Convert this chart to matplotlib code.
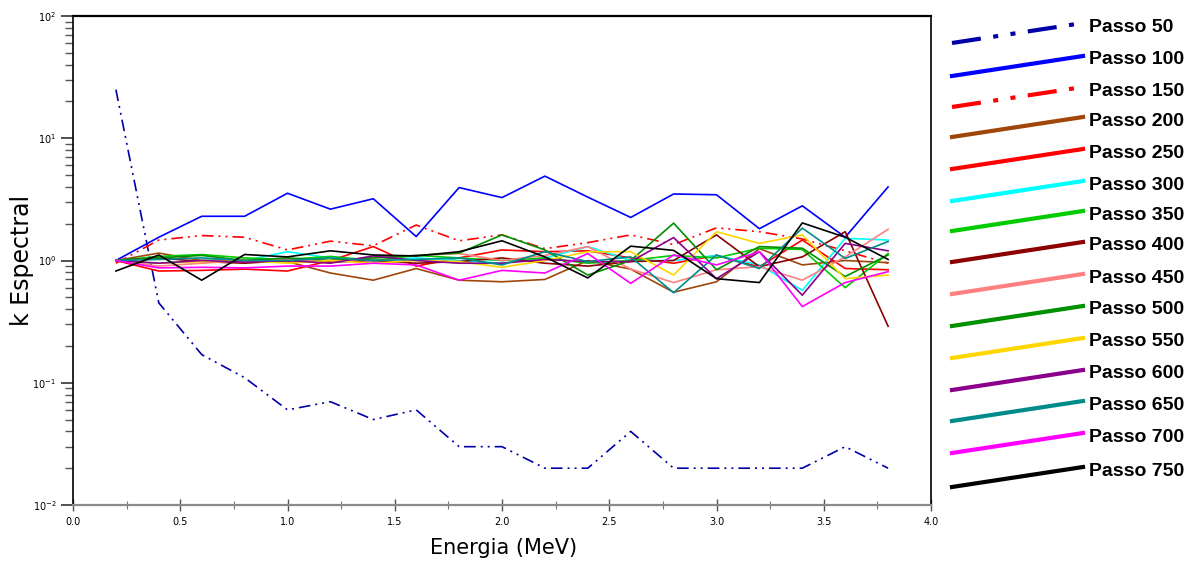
import matplotlib
matplotlib.use("Agg")
import matplotlib.pyplot as plt
from matplotlib.lines import Line2D
from matplotlib.ticker import LogLocator, LogFormatterMathtext, MultipleLocator, NullFormatter

# Energy grid (MeV)
energia = [0.2, 0.4, 0.6, 0.8, 1.0, 1.2, 1.4, 1.6, 1.8, 2.0,
           2.2, 2.4, 2.6, 2.8, 3.0, 3.2, 3.4, 3.6, 3.8]

# Spectral k for each step count
passo_50 = [25, 0.45, 0.17, 0.11, 0.06, 0.07, 0.05, 0.06, 0.03, 0.03,
            0.02, 0.02, 0.04, 0.02, 0.02, 0.02, 0.02, 0.03, 0.02]
passo_100 = [1.0, 1.55, 2.3, 2.3, 3.55, 2.63, 3.2, 1.57, 3.95, 3.27,
             4.9, 3.3, 2.25, 3.5, 3.45, 1.82, 2.8, 1.55, 4.0]
passo_150 = [0.95, 1.47, 1.6, 1.55, 1.22, 1.44, 1.32, 1.95, 1.45, 1.62,
             1.25, 1.4, 1.62, 1.35, 1.85, 1.72, 1.5, 1.2, 0.95]
passo_200 = [1.0, 1.15, 1.0, 1.02, 0.98, 0.79, 0.69, 0.86, 0.69, 0.67,
             0.7, 1.0, 0.85, 0.55, 0.67, 1.25, 0.92, 1.0, 0.96]
passo_250 = [1.0, 0.82, 0.83, 0.85, 0.82, 1.0, 1.3, 0.9, 1.05, 1.22,
             1.18, 1.2, 1.05, 0.95, 1.1, 0.89, 1.47, 0.86, 0.84]
passo_300 = [1.0, 0.95, 1.0, 1.0, 1.18, 1.05, 1.0, 1.05, 1.0, 0.95,
             1.05, 1.3, 1.0, 1.0, 1.1, 0.92, 0.57, 1.52, 1.47]
passo_350 = [1.0, 1.08, 1.12, 1.05, 1.02, 1.08, 1.0, 1.1, 1.05, 1.0,
             1.05, 0.95, 1.0, 1.1, 1.05, 1.26, 1.23, 0.6, 1.14]
passo_400 = [1.0, 1.05, 0.98, 0.95, 1.0, 0.97, 1.0, 0.95, 0.98, 1.05,
             0.95, 0.9, 0.98, 1.0, 1.62, 0.89, 1.07, 1.72, 0.29]
passo_450 = [1.0, 0.9, 0.95, 1.0, 1.02, 1.0, 1.05, 1.1, 1.14, 1.0,
             1.1, 1.3, 0.85, 0.66, 0.84, 0.89, 0.69, 1.07, 1.8]
passo_500 = [1.0, 1.05, 1.1, 1.0, 1.05, 1.0, 1.05, 1.1, 1.15, 1.62,
             1.22, 0.76, 1.0, 2.02, 0.84, 1.3, 1.26, 0.74, 1.11]
passo_550 = [1.0, 0.95, 0.98, 1.0, 0.95, 1.0, 0.95, 1.0, 0.98, 0.88,
             1.0, 1.18, 1.18, 0.76, 1.72, 1.38, 1.62, 0.71, 0.76]
passo_600 = [1.0, 0.95, 1.0, 0.97, 1.0, 0.95, 1.09, 1.0, 0.95, 0.95,
             1.02, 0.98, 0.98, 1.54, 0.71, 1.18, 0.52, 1.38, 1.2]
passo_650 = [1.0, 1.02, 1.05, 1.0, 1.0, 1.05, 1.0, 1.02, 1.05, 0.92,
             1.18, 0.98, 1.07, 0.545, 1.11, 0.86, 1.84, 1.04, 1.43]
passo_700 = [1.0, 0.87, 0.88, 0.87, 0.9, 0.9, 0.95, 0.92, 0.69, 0.83,
             0.79, 1.14, 0.65, 1.11, 0.92, 1.18, 0.42, 0.66, 0.81]
passo_750 = [0.82, 1.11, 0.69, 1.12, 1.07, 1.2, 1.11, 1.09, 1.18, 1.45,
             1.07, 0.72, 1.31, 1.21, 0.71, 0.66, 2.03, 1.55, 1.02]

labels = ["Passo 50", "Passo 100", "Passo 150", "Passo 200", "Passo 250",
          "Passo 300", "Passo 350", "Passo 400", "Passo 450", "Passo 500",
          "Passo 550", "Passo 600", "Passo 650", "Passo 700", "Passo 750"]

series = [passo_50, passo_100, passo_150, passo_200, passo_250, passo_300,
          passo_350, passo_400, passo_450, passo_500, passo_550, passo_600,
          passo_650, passo_700, passo_750]

colors = ["#0000A8", "#0000FF", "#FF0000", "#A0460A", "#FF0000", "#00FFFF",
          "#00CC00", "#8B0000", "#FF8080", "#009000", "#FFD700", "#8B008B",
          "#008B8B", "#FF00FF", "#000000"]

dash_50 = (0, (7, 3, 1.2, 3, 1.2, 3))
dash_150 = (0, (7, 3, 1.2, 3, 1.2, 3))
styles = [dash_50, "-", dash_150] + ["-"] * 12

W, H = 1188, 562
fig = plt.figure(figsize=(W / 100, H / 100), dpi=100)
fig.patch.set_facecolor("white")

left, right, top, bottom = 73, 931, 16, 505
ax = fig.add_axes([left / W, 1 - bottom / H, (right - left) / W, (bottom - top) / H])

for y, c, ls in zip(series, colors, styles):
    ax.plot(energia, y, color=c, linestyle=ls, linewidth=1.2)

ax.set_yscale("log")
ax.set_ylim(1e-2, 1e2)
ax.set_xlim(0.0, 4.0)

ax.xaxis.set_major_locator(MultipleLocator(0.5))
ax.xaxis.set_minor_locator(MultipleLocator(0.25))
ax.xaxis.set_major_formatter(plt.FuncFormatter(lambda v, p: f"{v:.1f}"))
ax.yaxis.set_major_locator(LogLocator(base=10, numticks=10))
ax.yaxis.set_minor_locator(LogLocator(base=10, subs=range(2, 10), numticks=20))
ax.yaxis.set_major_formatter(LogFormatterMathtext())
ax.yaxis.set_minor_formatter(NullFormatter())

ax.tick_params(axis="x", which="major", direction="inout", length=9, width=1,
               color="#555555", labelsize=7, pad=4)
ax.tick_params(axis="x", which="minor", direction="inout", length=6, width=0.8,
               color="#777777")
ax.tick_params(axis="y", which="major", direction="out", length=9, width=1.2,
               color="#333333", labelsize=7, pad=3)
ax.tick_params(axis="y", which="minor", direction="out", length=6, width=1,
               color="#555555")

for s in ("left", "right", "top"):
    ax.spines[s].set_color("black")
ax.spines["left"].set_linewidth(1.2)
ax.spines["right"].set_linewidth(1.2)
ax.spines["top"].set_linewidth(1.6)
ax.spines["bottom"].set_color("#8a8a8a")
ax.spines["bottom"].set_linewidth(1.6)

fig.text(22 / W, 1 - 260 / H, "k Espectral", rotation=90, fontsize=17,
         ha="center", va="center")
fig.text(504 / W, 1 - 548 / H, "Energia (MeV)", fontsize=15,
         ha="center", va="center")

# Legend drawn as slanted sample strokes beside bold labels
legend_y = [27, 60, 91, 121, 153, 185, 215, 246, 278, 310, 342, 374, 405, 437, 471]
for lab, c, ls, yl in zip(labels, colors, styles, legend_y):
    x0, x1 = 952, 1083
    y0, y1 = yl + 16, yl - 4
    fig.add_artist(Line2D([x0 / W, x1 / W], [1 - y0 / H, 1 - y1 / H],
                          color=c, linestyle=ls, linewidth=3.0,
                          transform=fig.transFigure))
    fig.text(1089 / W, 1 - yl / H, lab, fontsize=14, fontweight="bold",
             family="Liberation Sans", ha="left", va="center")

fig.savefig("out.png", dpi=100)
